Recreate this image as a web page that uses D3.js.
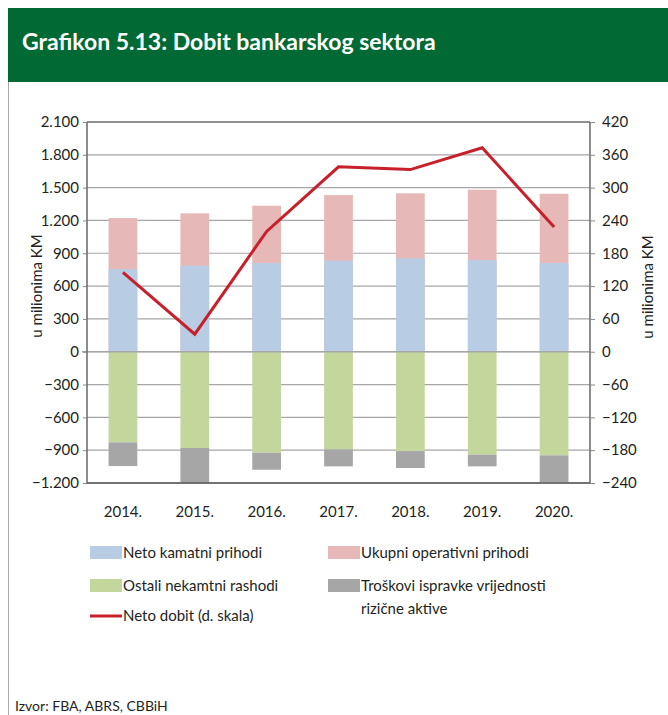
<!DOCTYPE html>
<html>
<head>
<meta charset="utf-8">
<script src="https://cdn.jsdelivr.net/npm/d3@7"></script>
<style>
  body { margin: 0; background: #fff; }
  svg { display: block; font-family: Lato, "Open Sans", sans-serif; }
</style>
</head>
<body>
<svg width="668" height="715"></svg>
<script>
// values (u milionima KM)
const years = ["2014.", "2015.", "2016.", "2017.", "2018.", "2019.", "2020."];
const netoKamatni = [756, 786, 811, 832, 854, 838, 811];
const ukupniOperativni = [1222, 1265, 1335, 1432, 1448, 1481, 1444];
const ostaliRashodi = [-828, -880, -923, -892, -908, -941, -947];
const troskoviIspravke = [-217, -314, -156, -156, -155, -107, -244];
const netoDobit = [145, 32, 220, 338, 333, 373, 228];

const leftTicks = [2100, 1800, 1500, 1200, 900, 600, 300, 0, -300, -600, -900, -1200];
const rightTicks = [420, 360, 300, 240, 180, 120, 60, 0, -60, -120, -180, -240];

const svg = d3.select("svg");
const W = +svg.attr("width");
const H = +svg.attr("height");

const plot = { left: 87, right: 590, top: 122, bottom: 483 };
const label = function(v) { return d3.format(",")(v).replace(/,/g, "."); };

// header band
svg.append("rect").attr("x", 8).attr("y", 8).attr("width", W - 8).attr("height", 74).attr("fill", "#006934");
svg.append("text").attr("x", 22).attr("y", 50)
  .attr("fill", "#fff").attr("font-weight", "bold").attr("font-size", 23)
  .text("Grafikon 5.13: Dobit bankarskog sektora");
svg.append("line").attr("x1", 8.5).attr("x2", 8.5).attr("y1", 82).attr("y2", H)
  .attr("stroke", "#aaa").attr("stroke-width", 1);

const x = d3.scaleBand().domain(years).range([plot.left, plot.right]).paddingInner(0.6).paddingOuter(0.3);
const yL = d3.scaleLinear().domain([-1200, 2100]).range([plot.bottom, plot.top]);
const yR = d3.scaleLinear().domain([-240, 420]).range([plot.bottom, plot.top]);

// grid
svg.append("g").selectAll("line").data(leftTicks.filter(d => d !== 2100 && d !== -1200)).enter()
  .append("line")
  .attr("x1", plot.left).attr("x2", plot.right)
  .attr("y1", d => yL(d)).attr("y2", d => yL(d))
  .attr("stroke", "#a6a6a6").attr("stroke-width", 1.2);

// bars
const bars = svg.append("g");
bars.selectAll(".pink").data(years).enter().append("rect")
  .attr("x", d => x(d)).attr("width", x.bandwidth())
  .attr("y", (d, i) => yL(ukupniOperativni[i])).attr("height", (d, i) => yL(0) - yL(ukupniOperativni[i]))
  .attr("fill", "#e6b9b8");
bars.selectAll(".blue").data(years).enter().append("rect")
  .attr("x", d => x(d)).attr("width", x.bandwidth())
  .attr("y", (d, i) => yL(netoKamatni[i])).attr("height", (d, i) => yL(0) - yL(netoKamatni[i]))
  .attr("fill", "#b8cce4");
bars.selectAll(".green").data(years).enter().append("rect")
  .attr("x", d => x(d)).attr("width", x.bandwidth())
  .attr("y", yL(0)).attr("height", (d, i) => yL(ostaliRashodi[i]) - yL(0))
  .attr("fill", "#c3d69b");
bars.selectAll(".gray").data(years).enter().append("rect")
  .attr("x", d => x(d)).attr("width", x.bandwidth())
  .attr("y", (d, i) => yL(ostaliRashodi[i]))
  .attr("height", (d, i) => yL(ostaliRashodi[i] + troskoviIspravke[i]) - yL(ostaliRashodi[i]))
  .attr("fill", "#a6a6a6");

// zero line on top
svg.append("line").attr("x1", plot.left - 5).attr("x2", plot.right)
  .attr("y1", yL(0)).attr("y2", yL(0)).attr("stroke", "#a6a6a6").attr("stroke-width", 1.5);

// frame
svg.append("line").attr("x1", plot.left).attr("x2", plot.right).attr("y1", plot.top).attr("y2", plot.top)
  .attr("stroke", "#222").attr("stroke-width", 1.2);
svg.append("line").attr("x1", plot.left).attr("x2", plot.right).attr("y1", plot.bottom).attr("y2", plot.bottom)
  .attr("stroke", "#444").attr("stroke-width", 1.5);

// axes
const axL = svg.append("g").attr("transform", "translate(" + plot.left + ",0)")
  .call(d3.axisLeft(yL).tickValues(leftTicks).tickFormat(label).tickSize(4).tickPadding(4));
const axR = svg.append("g").attr("transform", "translate(" + plot.right + ",0)")
  .call(d3.axisRight(yR).tickValues(rightTicks).tickFormat(d3.format("d")).tickSize(5).tickPadding(7));
[axL, axR].forEach(function(ax) {
  ax.select(".domain").attr("stroke", "#666").attr("stroke-width", 1.5);
  ax.selectAll(".tick line").attr("stroke", "#888");
  ax.selectAll("text").attr("font-size", 15).attr("fill", "#231f20").attr("font-family", "Lato, sans-serif");
});
axL.select(".domain").attr("d", "M0," + plot.top + "V" + plot.bottom);
axR.select(".domain").attr("d", "M0," + plot.top + "V" + plot.bottom);

// x labels
svg.append("g").selectAll("text").data(years).enter().append("text")
  .attr("x", d => x(d) + x.bandwidth() / 2).attr("y", 517)
  .attr("text-anchor", "middle").attr("font-size", 15).attr("fill", "#231f20")
  .text(d => d);

// axis titles
svg.append("text").attr("transform", "translate(42,286) rotate(-90)")
  .attr("text-anchor", "middle").attr("font-size", 15).attr("fill", "#231f20").text("u milionima KM");
svg.append("text").attr("transform", "translate(653,287) rotate(-90)")
  .attr("text-anchor", "middle").attr("font-size", 15).attr("fill", "#231f20").text("u milionima KM");

// line on right scale
const line = d3.line().x((d, i) => x(years[i]) + x.bandwidth() / 2).y(d => yR(d));
svg.append("path").datum(netoDobit).attr("d", line)
  .attr("fill", "none").attr("stroke", "#c8202a").attr("stroke-width", 3);

// legend
const lg = svg.append("g").attr("font-size", 15).attr("fill", "#231f20");
const swatches = [
  { x: 90, y: 546, c: "#b8cce4", t: ["Neto kamatni prihodi"] },
  { x: 328, y: 546, c: "#e6b9b8", t: ["Ukupni operativni prihodi"] },
  { x: 90, y: 579, c: "#c3d69b", t: ["Ostali nekamtni rashodi"] },
  { x: 328, y: 579, c: "#a6a6a6", t: ["Troškovi ispravke vrijednosti", "rizične aktive"] }
];
swatches.forEach(function(s) {
  lg.append("rect").attr("x", s.x).attr("y", s.y).attr("width", 32).attr("height", 13).attr("fill", s.c);
  s.t.forEach(function(t, j) {
    lg.append("text").attr("x", s.x + 33).attr("y", s.y + 12 + j * 23).text(t);
  });
});
lg.append("line").attr("x1", 90).attr("x2", 122).attr("y1", 616).attr("y2", 616)
  .attr("stroke", "#c8202a").attr("stroke-width", 3);
lg.append("text").attr("x", 123).attr("y", 621).text("Neto dobit (d. skala)");

// source
svg.append("text").attr("x", 15).attr("y", 711).attr("font-size", 14).attr("fill", "#231f20")
  .text("Izvor: FBA, ABRS, CBBiH");
</script>
</body>
</html>
